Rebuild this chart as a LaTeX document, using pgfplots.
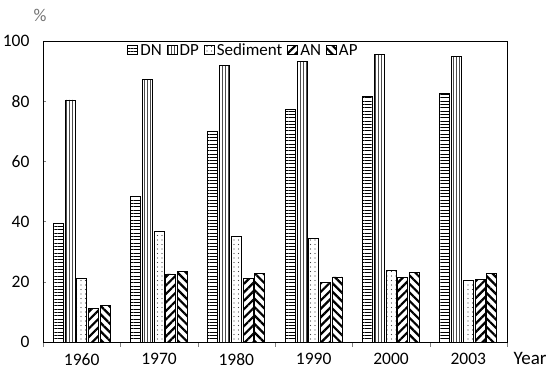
\documentclass[border=0pt]{standalone}
\usepackage{pgfplots}
\pgfplotsset{compat=1.18}
\usepackage{fontspec}
\setmainfont{Carlito}
\usetikzlibrary{patterns.meta}
\begin{document}
\begin{tikzpicture}
\useasboundingbox (-43pt,-33pt) rectangle (507pt,342pt);
\begin{axis}[
  at={(0,0)}, anchor=south west,
  scale only axis, width=464pt, height=301pt,
  clip=false,
  ymin=0, ymax=100, ytick={0,20,...,100},
  xmin=-0.5, xmax=5.5,
  xtick={0,...,5}, xticklabels={1960,1970,1980,1990,2000,2003},
  minor xtick={-0.5,0.5,...,5.5},
  major x tick style={draw=none},
  minor tick length=5pt,
  xtick align=outside,
  ytick align=inside, major tick length=3pt,
  xtick pos=bottom, ytick pos=left,
  /pgf/number format/assume math mode=true,
  tick label style={font=\fontsize{17.5}{18}\selectfont},
  yticklabel style={xshift=-10pt},
  xticklabel style={yshift=-5pt},
  axis line style={line width=0.8pt},
  ybar=1.7pt, bar width=10pt,
  every axis plot/.append style={draw=black, line width=0.9pt},
  legend style={at={(0.175,1.005)}, anchor=north west, draw=none, fill=none,
    font=\fontsize{17}{18}\selectfont, legend columns=-1,
    /tikz/every even column/.append style={column sep=3pt}},
  legend image code/.code={\draw[#1, line width=0.9pt] (0pt,-4pt) rectangle (10pt,4.5pt);},
  legend cell align=left,
]
\addplot[pattern={Lines[angle=0,distance=3.3pt,line width=0.7pt]}] coordinates {(0,39.4) (1,48.2) (2,69.9) (3,77.3) (4,81.5) (5,82.7)};
\addplot[pattern={Lines[angle=90,distance=3pt,line width=0.9pt]}, pattern color=black!70] coordinates {(0,80.4) (1,87.2) (2,91.9) (3,93.2) (4,95.6) (5,95.0)};
\addplot[pattern={Dots[distance=4.5pt,radius=0.55pt]}, pattern color=black!75] coordinates {(0,21.2) (1,36.6) (2,35.2) (3,34.3) (4,23.8) (5,20.3)};
\addplot[pattern={Lines[angle=45,distance=6pt,line width=2.2pt]}] coordinates {(0,11.0) (1,22.6) (2,21.2) (3,19.8) (4,21.5) (5,20.7)};
\addplot[pattern={Lines[angle=-45,distance=6pt,line width=2.2pt]}] coordinates {(0,12.1) (1,23.3) (2,22.9) (3,21.6) (4,23.1) (5,22.9)};
\legend{DN,DP,Sediment,AN,AP}
\node[anchor=west, font=\fontsize{19}{20}\selectfont] at ([xshift=3pt,yshift=-16pt]rel axis cs:1,0) {Year};
\node[anchor=south, text=black!55, font=\fontsize{18}{19}\selectfont] at ([xshift=-3pt,yshift=16pt]rel axis cs:0,1) {\%};
\end{axis}
\end{tikzpicture}
\end{document}
